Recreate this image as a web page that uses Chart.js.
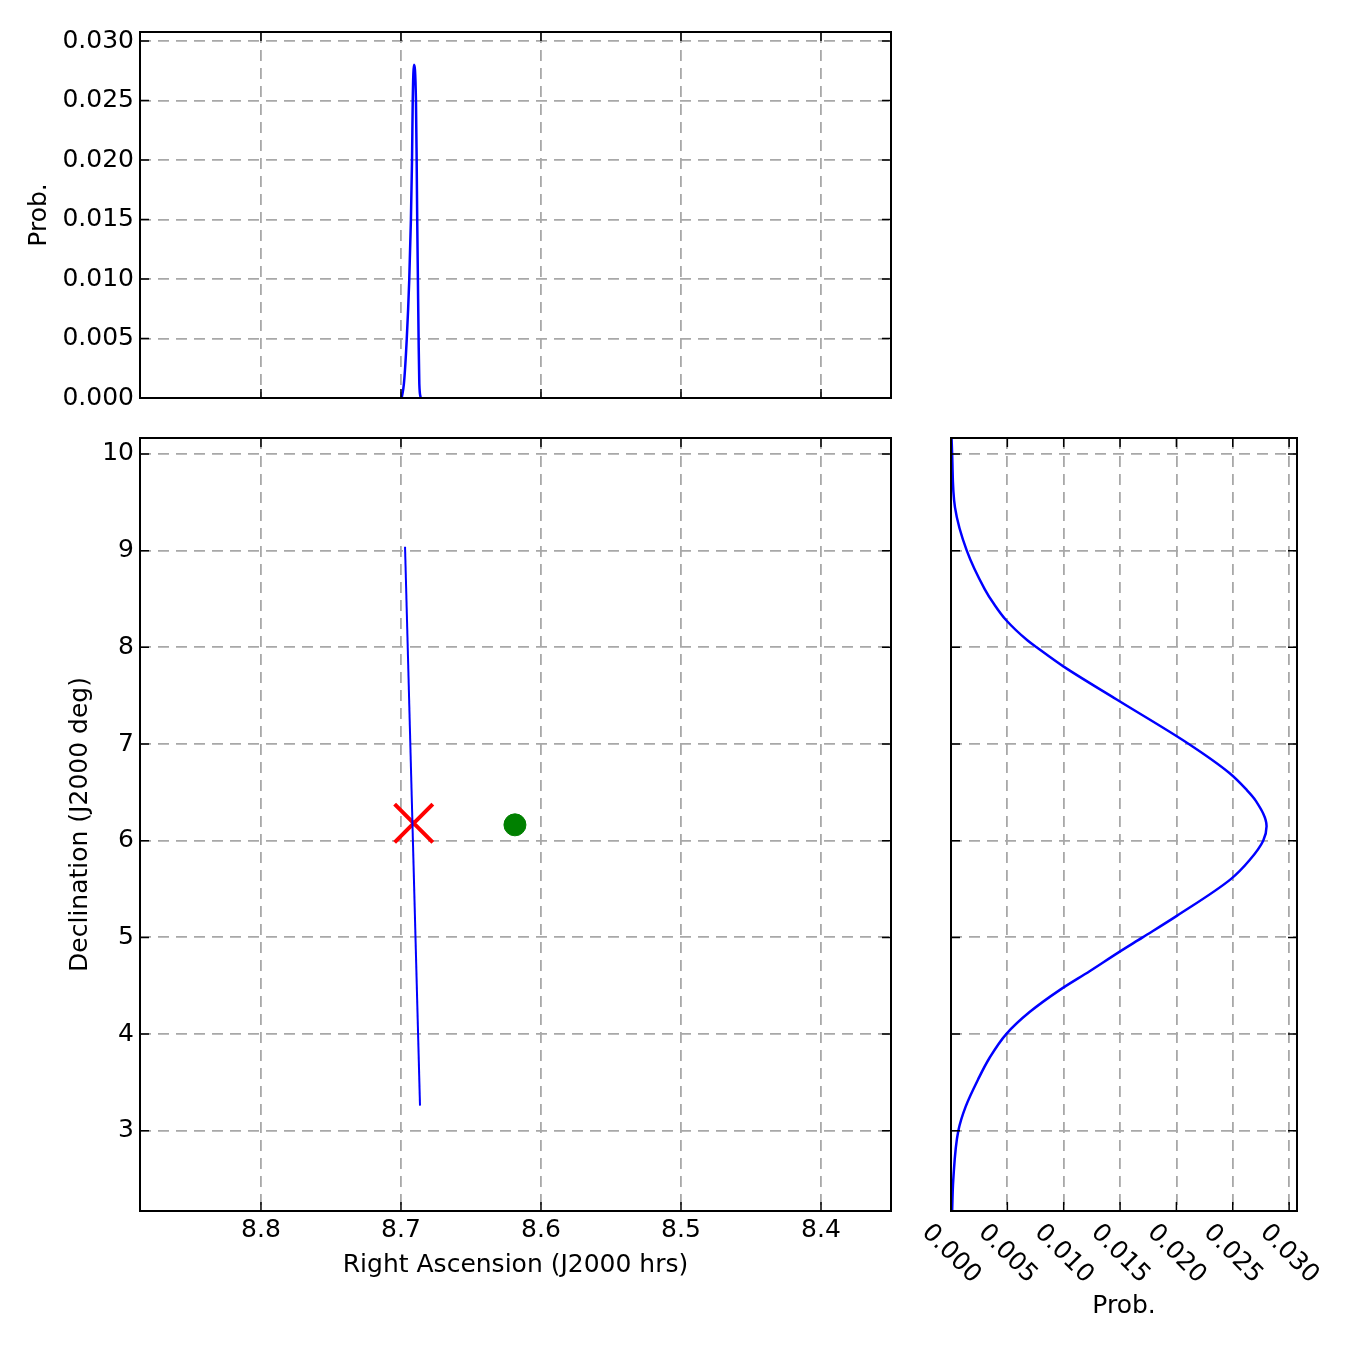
<!DOCTYPE html>
<html lang="en">
<head>
  <meta charset="UTF-8" />
  <title>RA / Dec probability</title>
  <script src="https://cdn.jsdelivr.net/npm/chart.js"></script>
  <style>
    * { margin: 0; padding: 0; box-sizing: border-box; }
    body { background: #fff; }
    .wrap { position: relative; width: 1350px; height: 1350px; }
    .wrap canvas { position: absolute; left: 0; top: 0; }
  </style>
</head>
<body>
  <div class="wrap">
    <canvas id="topChart" width="1350" height="1350"></canvas>
    <canvas id="mainChart" width="1350" height="1350"></canvas>
    <canvas id="sideChart" width="1350" height="1350"></canvas>
  </div>

  <script>
    // tick values
    const raTicks = [8.4, 8.5, 8.6, 8.7, 8.8];
    const decTicks = [3, 4, 5, 6, 7, 8, 9, 10];
    const probTicks = [0, 0.005, 0.010, 0.015, 0.020, 0.025, 0.030];

    // track in the main panel
    const lineRa = [8.6971, 8.6864];
    const lineDec = [9.04, 3.26];

    // best fit (red x) and source (green dot)
    const bestRa = [8.6909];
    const bestDec = [6.18];
    const srcRa = [8.6186];
    const srcDec = [6.164];

    // top panel: probability vs RA
    const topRa = [8.6995, 8.6979, 8.6959, 8.6941, 8.6929, 8.6921, 8.6916, 8.6907,
                   8.6893, 8.6888, 8.6884, 8.6879, 8.6874, 8.6869, 8.6859];
    const topProb = [0, 0.0012, 0.0049, 0.0099, 0.0150, 0.0200, 0.0250, 0.0280,
                     0.0250, 0.0200, 0.0150, 0.0099, 0.0049, 0.0012, 0];

    // side panel: probability vs Dec
    const sideDec = [10.17, 10.0, 9.45, 9.0, 8.6, 8.45, 8.28, 8.07, 8.0, 7.8, 7.46, 7.0, 6.7, 6.53, 6.42,
                     6.15, 6.0, 5.8, 5.6, 5.22, 5.0, 4.84, 4.65, 4.46, 4.23, 4.0, 3.75, 3.53, 3.25, 3.0, 2.49, 2.17];
    const sideProb = [0.00005, 0.0001, 0.00035, 0.0014, 0.0030, 0.0038, 0.0049, 0.0068, 0.0076, 0.0100, 0.0147,
                      0.0211, 0.0247, 0.0262, 0.0270, 0.0280, 0.0277, 0.0265, 0.0248, 0.0200, 0.0170, 0.0148,
                      0.0123, 0.0097, 0.0070, 0.0049, 0.0034, 0.0024, 0.0013, 0.00065, 0.0002, 0.0001];

    const BLUE = '#0000ff';
    const GRID = '#a8a8a8';
    const TICK = 9;

    Chart.defaults.font.family = '"DejaVu Sans", sans-serif';
    Chart.defaults.font.size = 25;
    Chart.defaults.color = '#000';

    const grid = { color: GRID, lineWidth: 1.8, drawTicks: false };
    const border = { display: false, dash: [11, 7] };
    const noPlugins = { legend: { display: false }, tooltip: { enabled: false } };
    const titleFont = { size: 25, lineHeight: 1 };

    const setTicks = vals => s => { s.ticks = vals.map(v => ({ value: v })); };
    const pts = (xs, ys) => xs.map((x, i) => ({ x: x, y: ys[i] }));

    // box around the plot area + inward tick marks on all four sides
    const frame = {
      id: 'frame',
      afterDraw(chart) {
        const { ctx, chartArea: a, scales } = chart;
        ctx.save();
        ctx.strokeStyle = '#000';
        ctx.lineWidth = 1.5;
        ctx.beginPath();
        scales.x.ticks.forEach(t => {
          const px = scales.x.getPixelForValue(t.value);
          ctx.moveTo(px, a.bottom); ctx.lineTo(px, a.bottom - TICK);
          ctx.moveTo(px, a.top); ctx.lineTo(px, a.top + TICK);
        });
        scales.y.ticks.forEach(t => {
          const py = scales.y.getPixelForValue(t.value);
          ctx.moveTo(a.left, py); ctx.lineTo(a.left + TICK, py);
          ctx.moveTo(a.right, py); ctx.lineTo(a.right - TICK, py);
        });
        ctx.stroke();
        ctx.lineWidth = 2;
        ctx.strokeRect(a.left, a.top, a.right - a.left, a.bottom - a.top);
        ctx.restore();
      }
    };

    // slanted tick labels under the side panel
    const slantLabels = {
      id: 'slantLabels',
      afterDraw(chart) {
        const { ctx, chartArea, scales: { x } } = chart;
        ctx.save();
        ctx.font = '25px "DejaVu Sans"';
        ctx.fillStyle = '#000';
        ctx.textAlign = 'center';
        ctx.textBaseline = 'middle';
        probTicks.forEach(v => {
          ctx.save();
          ctx.translate(x.getPixelForValue(v), chartArea.bottom + 43);
          ctx.rotate(Math.PI / 4);
          ctx.fillText(v.toFixed(3), 0, 0);
          ctx.restore();
        });
        ctx.restore();
      }
    };

    // ---- top panel ----
    new Chart(document.getElementById('topChart'), {
      type: 'scatter',
      data: {
        datasets: [{
          data: pts(topRa, topProb),
          showLine: true,
          borderColor: BLUE,
          borderWidth: 2.5,
          pointRadius: 0,
          cubicInterpolationMode: 'monotone'
        }]
      },
      options: {
        responsive: false,
        animation: false,
        layout: { padding: { left: 27, top: 32, right: 459, bottom: 952 } },
        plugins: noPlugins,
        scales: {
          x: {
            type: 'linear', reverse: true, min: 8.35, max: 8.8864,
            afterBuildTicks: setTicks(raTicks),
            afterFit: s => { s.height = 0; },
            ticks: { display: false },
            grid: grid, border: border
          },
          y: {
            type: 'linear', min: 0, max: 0.03076,
            afterBuildTicks: setTicks(probTicks),
            afterFit: s => { s.width = 113; },
            ticks: { padding: 6, callback: v => v.toFixed(3) },
            grid: grid, border: border,
            title: { display: true, text: 'Prob.', padding: 0, font: titleFont }
          }
        }
      },
      plugins: [frame]
    });

    // ---- main panel ----
    new Chart(document.getElementById('mainChart'), {
      type: 'scatter',
      data: {
        datasets: [
          {
            data: pts(lineRa, lineDec),
            showLine: true,
            borderColor: BLUE,
            borderWidth: 2,
            pointRadius: 0
          },
          {
            data: pts(bestRa, bestDec),
            pointStyle: 'crossRot',
            pointRadius: 27,
            pointBorderColor: '#ff0000',
            pointBorderWidth: 4
          },
          {
            data: pts(srcRa, srcDec),
            pointStyle: 'circle',
            pointRadius: 11,
            pointBackgroundColor: '#008000',
            pointBorderColor: '#008000',
            pointBorderWidth: 1
          }
        ]
      },
      options: {
        responsive: false,
        animation: false,
        layout: { padding: { left: 68, top: 438, right: 459, bottom: 72 } },
        plugins: noPlugins,
        scales: {
          x: {
            type: 'linear', reverse: true, min: 8.35, max: 8.8864,
            afterBuildTicks: setTicks(raTicks),
            afterFit: s => { s.height = 67; },
            ticks: { padding: 4, callback: v => v.toFixed(1) },
            grid: grid, border: border,
            title: { display: true, text: 'Right Ascension (J2000 hrs)', padding: 0, font: titleFont }
          },
          y: {
            type: 'linear', min: 2.17, max: 10.165,
            afterBuildTicks: setTicks(decTicks),
            afterFit: s => { s.width = 72; },
            ticks: { padding: 6, callback: v => String(v) },
            grid: grid, border: border,
            title: { display: true, text: 'Declination (J2000 deg)', padding: 0, font: titleFont }
          }
        }
      },
      plugins: [frame]
    });

    // ---- side panel (Dec is the index axis here) ----
    new Chart(document.getElementById('sideChart'), {
      type: 'scatter',
      data: {
        datasets: [{
          data: pts(sideProb, sideDec),
          showLine: true,
          borderColor: BLUE,
          borderWidth: 2.5,
          pointRadius: 0,
          indexAxis: 'y',
          cubicInterpolationMode: 'monotone'
        }]
      },
      options: {
        responsive: false,
        animation: false,
        indexAxis: 'y',
        layout: { padding: { left: 951, top: 438, right: 53, bottom: 31 } },
        plugins: noPlugins,
        scales: {
          x: {
            type: 'linear', min: 0, max: 0.0307,
            afterBuildTicks: setTicks(probTicks),
            afterFit: s => { s.height = 108; },
            ticks: { display: false },
            grid: grid, border: border,
            title: { display: true, text: 'Prob.', padding: 0, font: titleFont }
          },
          y: {
            type: 'linear', min: 2.17, max: 10.165,
            afterBuildTicks: setTicks(decTicks),
            afterFit: s => { s.width = 0; },
            ticks: { display: false },
            grid: grid, border: border
          }
        }
      },
      plugins: [frame, slantLabels]
    });
  </script>
</body>
</html>
